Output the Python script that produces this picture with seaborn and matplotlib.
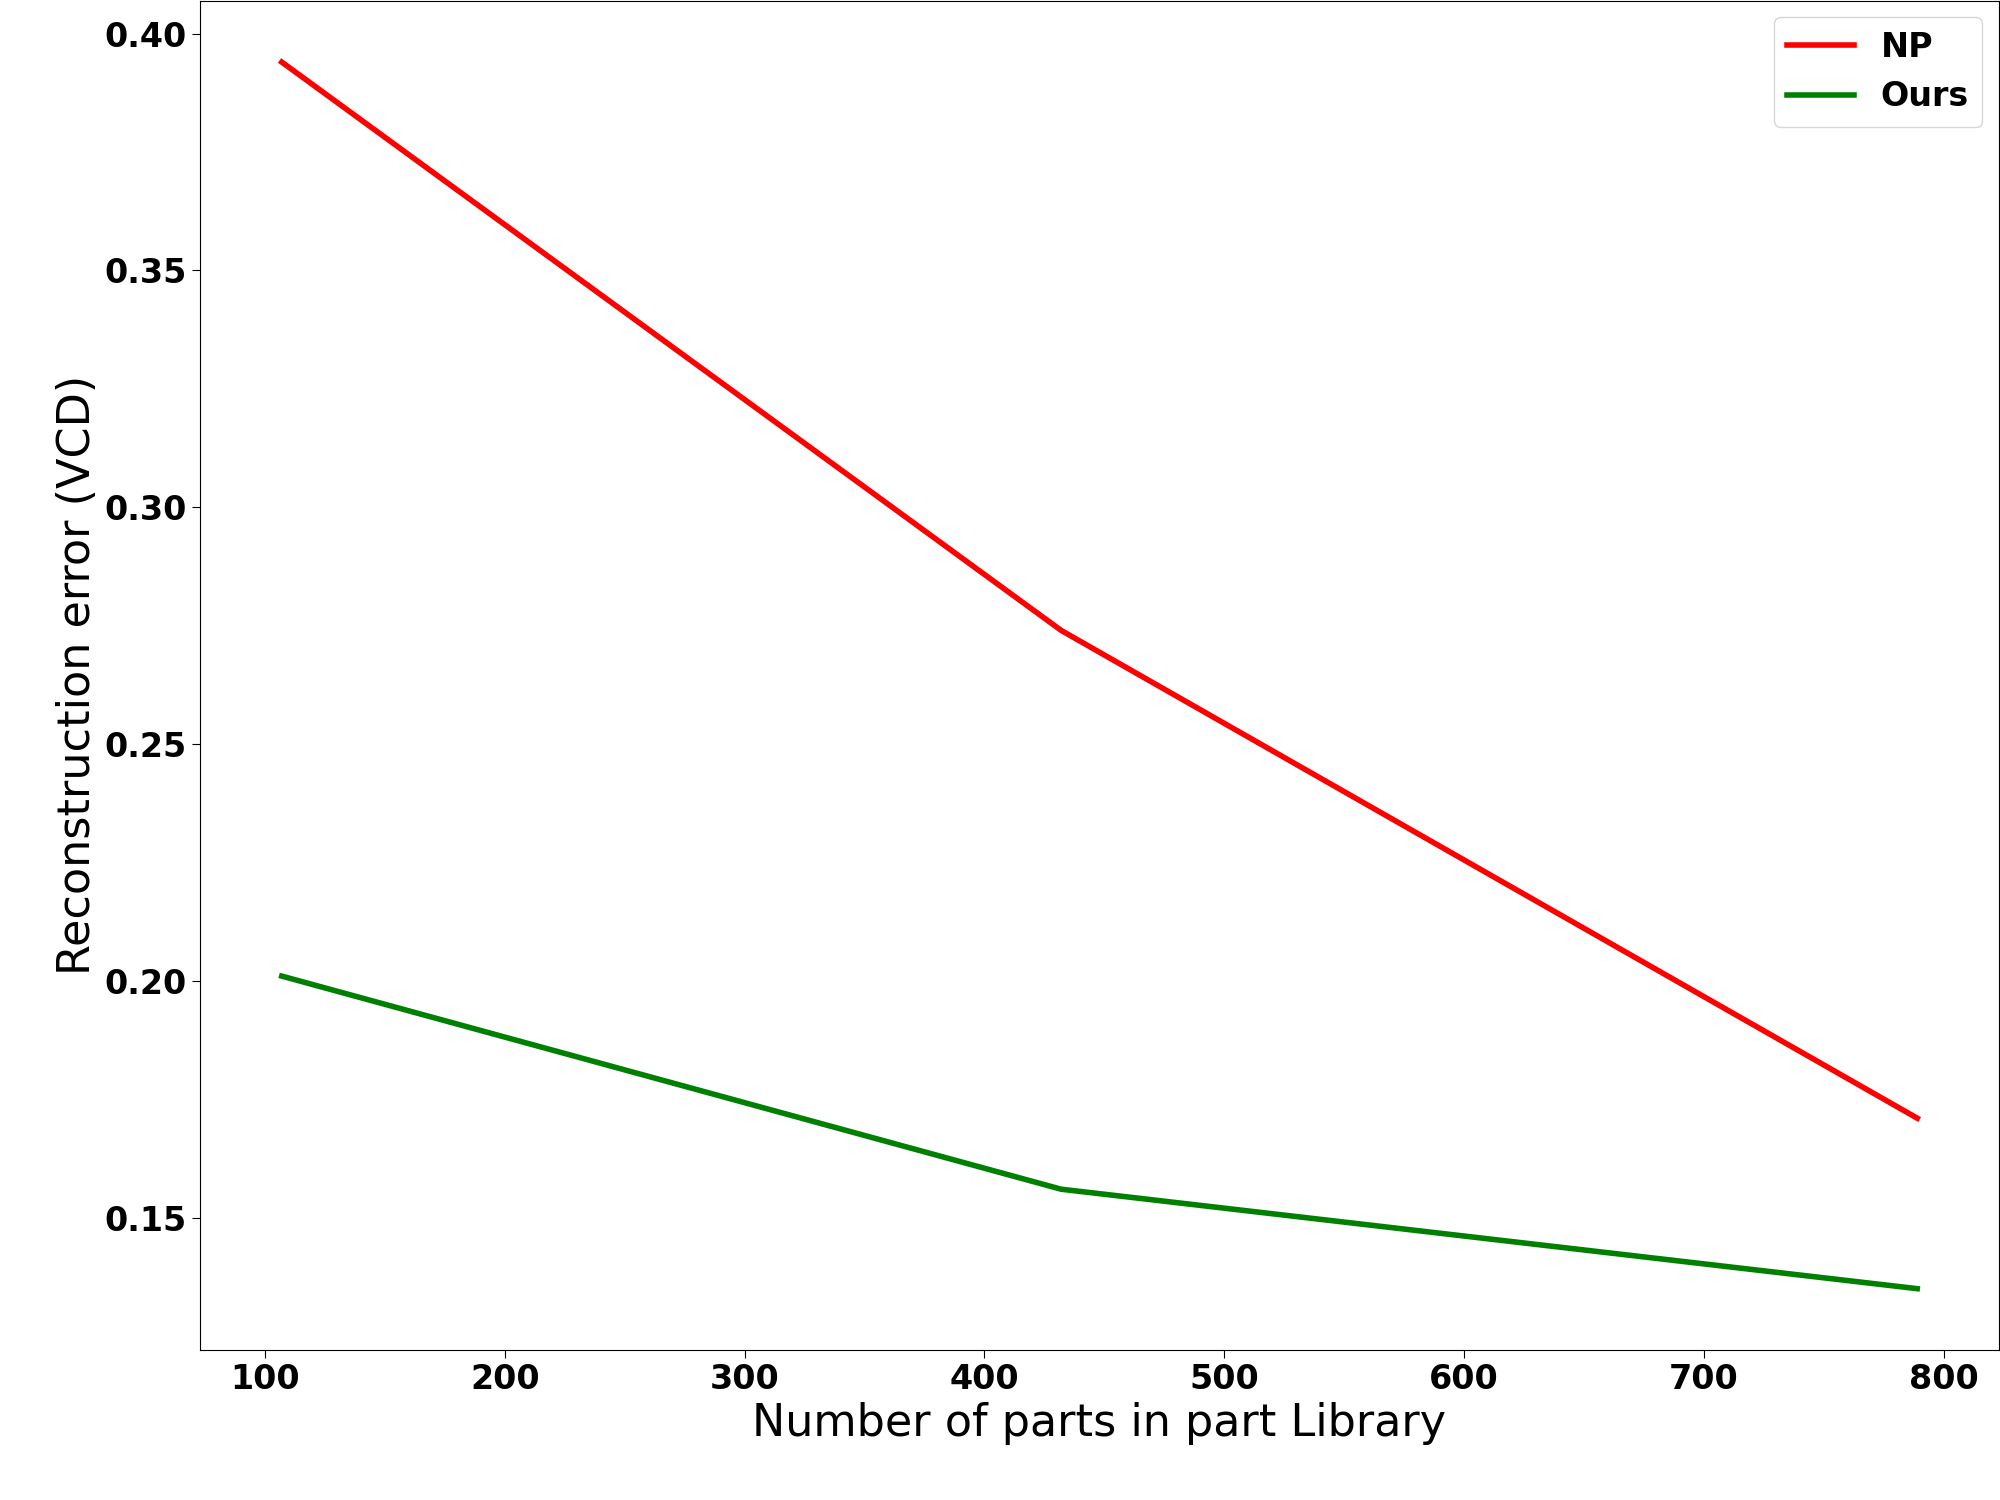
import pandas as pd
import numpy as np
import matplotlib
matplotlib.use("Agg")
import matplotlib.pyplot as plt
import seaborn as sns

parts = [107, 432, 789]
np_err = [0.394, 0.274, 0.171]
ours_err = [0.201, 0.156, 0.135]

df = pd.DataFrame({
    "parts": parts + parts,
    "error": np_err + ours_err,
    "method": ["NP"] * len(parts) + ["Ours"] * len(parts),
})

fig = plt.figure(figsize=(20, 15), dpi=100)
ax = fig.add_axes([0.1, 0.1, 0.8995, 0.8995])

sns.lineplot(data=df, x="parts", y="error", hue="method",
             palette={"NP": "red", "Ours": "green"}, linewidth=4, ax=ax)

ax.set_xlabel("Number of parts in part Library", fontsize=32)
ax.set_ylabel("Reconstruction error (VCD)", fontsize=32)
ax.set_xticks([100, 200, 300, 400, 500, 600, 700, 800])
ax.set_yticks([0.15, 0.20, 0.25, 0.30, 0.35, 0.40])
for lab in ax.get_xticklabels() + ax.get_yticklabels():
    lab.set_fontsize(24)
    lab.set_fontweight("bold")
ax.tick_params(length=6)

leg = ax.legend(loc="upper right", prop={"size": 24, "weight": "bold"})
for line in leg.get_lines():
    line.set_linewidth(4)

fig.savefig("out.png", dpi=100)
